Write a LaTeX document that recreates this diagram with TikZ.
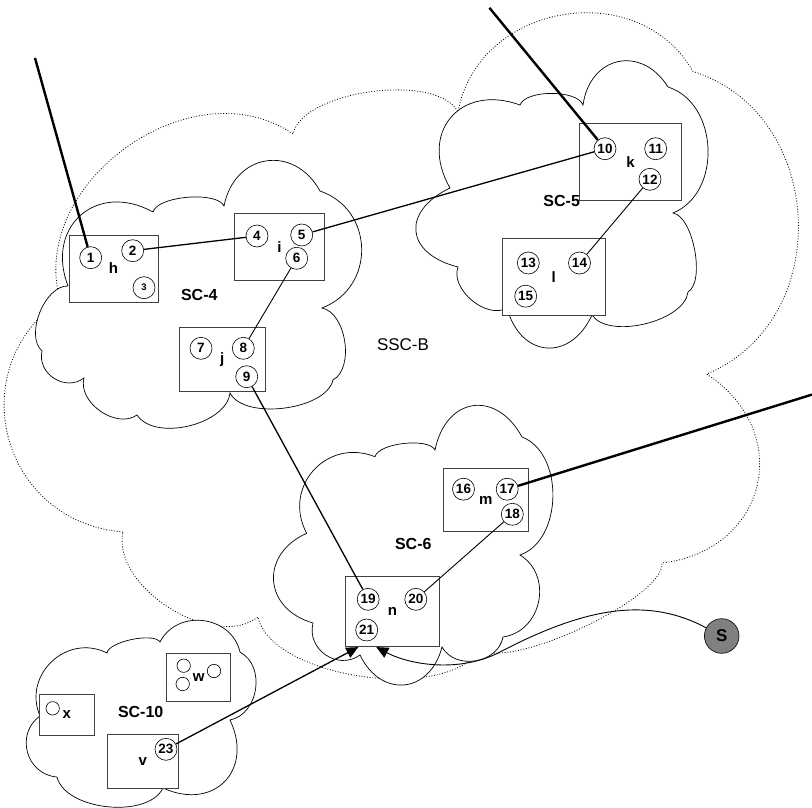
\documentclass[tikz,border=0pt]{standalone}
\usepackage{fontspec}
\setmainfont{Liberation Sans}
\usetikzlibrary{arrows.meta}

\begin{document}
\begin{tikzpicture}[x=1pt,y=-1pt,>={Triangle[length=12pt,width=11pt]},
  cloudline/.style={draw=black,line width=0.7pt,fill=white},
  ssc/.style={draw=black,line width=0.8pt,dash pattern=on 0.9pt off 1.8pt},
  puff/.style={bend left=70,looseness=#1},puff/.default=1.2,
  unitbox/.style={draw=black!75,line width=0.8pt,fill=white,font=\bfseries\fontsize{15}{15}\selectfont},
  port/.style={draw,circle,fill=white,line width=0.6pt,minimum size=22pt,inner sep=0pt,font=\bfseries\fontsize{13.5}{13.5}\selectfont},
  blankport/.style={draw,circle,fill=white,line width=0.6pt,minimum size=13.4pt,inner sep=0pt},
  link/.style={line width=0.9pt},
  heavylink/.style={line width=1.3pt},
  extlink/.style={line width=2.4pt},
  sclabel/.style={font=\bfseries\fontsize{16}{16}\selectfont}]
\useasboundingbox (0,0) rectangle (812,808);

\draw[ssc] (123,532) to[puff=1.3] (60,300) to[puff=1.09] (293,134) to[puff=0.69] (458,112)
  to[puff=1.19] (693,71.5) to[puff=1.18] (706.7,374) to[puff=1.4] (662,563)
  to[puff=0.45] (480,648) to[puff=0.72] (258,617) to[puff=0.9] (123,532);

\draw[cloudline] (68,286) to[puff=1.45] (153,212) to[puff=0.6] (224,206) to[puff=1.42] (320,191)
  to[puff=1.26] (322,308) to[puff=0.87] (333,380) to[puff=0.76] (230,393) to[puff=0.86] (137,415)
  to[puff=1.0] (84,378) to[puff=1.2] (42,351) to[puff=0.85] (68,286);
\draw[cloudline] (450,188) to[puff=1.5] (520,105) to[puff=0.67] (583,105) to[puff=1.47] (668,87)
  to[puff=1.08] (673,213) to[puff=0.65] (688,292) to[puff=0.77] (592,315) to[puff=1.56] (507,308)
  to[puff=0.95] (458,267) to[puff=1.75] (450,188);
\draw[cloudline] (306.7,533.3) to[puff=1.3] (375,456.7) to[puff=0.6] (435,450) to[puff=1.58] (522,437)
  to[puff=0.98] (520,555) to[puff=1.2] (503,637) to[puff=1.12] (442,647) to[puff=1.5] (360,655)
  to[puff=1.23] (313,623) to[puff=1.47] (306.7,533.3);
\draw[cloudline] (40,716) to[puff=1.25] (107,653) to[puff=0.55] (160,642) to[puff=1.2] (240,652)
  to[puff=1.1] (230,720) to[puff=1.5] (163,788) to[puff=0.83] (57,777) to[puff=1.25] (40,716);

\node[unitbox,minimum width=89pt,minimum height=67pt] (h) at (113.5,268.5) {h};
\node[unitbox,minimum width=89.6pt,minimum height=66.7pt] (i) at (279.5,246.7) {i};
\node[unitbox,minimum width=85.7pt,minimum height=64pt] (j) at (222.2,359.7) {j};
\node[unitbox,minimum width=102.4pt,minimum height=76.7pt] (k) at (630.5,161.7) {k};
\node[unitbox,minimum width=102.7pt,minimum height=76.3pt] (l) at (553.7,276.9) {l};
\node[unitbox,minimum width=85pt,minimum height=63.4pt] (m) at (485.8,500) {m};
\node[unitbox,minimum width=93.6pt,minimum height=70pt] (n) at (392.5,611.7) {n};
\node[unitbox,minimum width=64pt,minimum height=48.4pt] (w) at (198.7,677.5) {w};
\node[unitbox,minimum width=54.7pt,minimum height=41pt] (x) at (66.7,714.5) {x};
\node[unitbox,minimum width=71.3pt,minimum height=54pt] (v) at (142.7,761.3) {v};

\node[port] (p1) at (90.7,257.7) {1};
\node[port] (p2) at (132.7,250.7) {2};
\node[port,font=\bfseries\fontsize{9.5}{9.5}\selectfont] (p3) at (144,287.7) {3};
\node[port] (p4) at (257,236) {4};
\node[port] (p5) at (301.7,235) {5};
\node[port] (p6) at (296.7,258.3) {6};
\node[port] (p7) at (201,348.3) {7};
\node[port] (p8) at (243.3,348.3) {8};
\node[port] (p9) at (246.7,376.7) {9};
\node[port] (p10) at (605,148.7) {10};
\node[port] (p11) at (655.7,148.7) {11};
\node[port] (p12) at (650,179.3) {12};
\node[port] (p13) at (528.3,263) {13};
\node[port] (p14) at (579.5,263) {14};
\node[port] (p15) at (525.7,296.2) {15};
\node[port] (p16) at (463.5,489.2) {16};
\node[port] (p17) at (507.2,489.2) {17};
\node[port] (p18) at (512.3,514.3) {18};
\node[port] (p19) at (368.2,599.3) {19};
\node[port] (p20) at (415.8,599.3) {20};
\node[port] (p21) at (366.7,630) {21};
\node[port] (p23) at (166,749.3) {23};
\node[blankport] (w1) at (183.7,665.7) {};
\node[blankport] (w2) at (182.7,684) {};
\node[blankport] (w3) at (214,671) {};
\node[blankport] (x1) at (52.7,708.3) {};

\node[draw,circle,fill=black!50,line width=0.6pt,minimum size=34.6pt,inner sep=0pt,
  font=\bfseries\fontsize{17}{17}\selectfont] (s) at (721.7,636) {S};

\node[sclabel] (sc4) at (199.3,295) {SC-4};
\node[sclabel] (sc5) at (561.7,200.7) {SC-5};
\node[sclabel] (sc6) at (413.3,544.3) {SC-6};
\node[sclabel] (sc10) at (140.7,712.3) {SC-10};
\node[font=\fontsize{17}{17}\selectfont] (sscb) at (403,344.4) {SSC-B};

\coordinate (out1) at (35,58);
\coordinate (out10) at (489.4,7.8);
\coordinate (out17) at (812,394.6);
\draw[extlink] (out1) -- (p1);
\draw[extlink] (out10) -- (p10);
\draw[extlink] (out17) -- (p17);

\draw[heavylink] (p2) -- (p4);
\draw[heavylink] (p5) -- (p10);
\draw[link] (p6) -- (p8);
\draw[link] (p12) -- (p14);
\draw[heavylink] (p9) -- (p19);
\draw[link] (p18) -- (p20);
\draw[heavylink,->] (p23) -- ([xshift=13pt]n.south west);
\draw[link,->] (s) .. controls (650,598) and (590,605) .. (500,652)
  .. controls (460,673) and (410,665) .. ([xshift=31pt]n.south west);
\end{tikzpicture}
\end{document}
